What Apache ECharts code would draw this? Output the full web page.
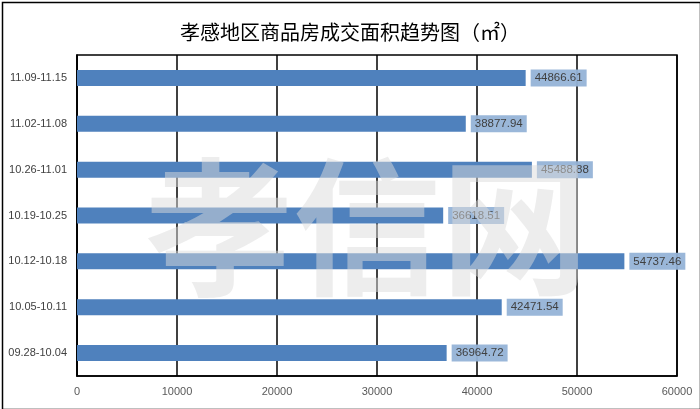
<!DOCTYPE html>
<html><head><meta charset="utf-8">
<script src="https://cdn.jsdelivr.net/npm/echarts@6/dist/echarts.min.js"></script>
<style>html,body{margin:0;padding:0;background:#fff}#c{width:700px;height:409px}</style>
</head><body><div id="c"></div>
<script>
const categories = ['09.28-10.04','10.05-10.11','10.12-10.18','10.19-10.25','10.26-11.01','11.02-11.08','11.09-11.15'];
const areaValues = [36964.72, 42471.54, 54737.46, 36618.51, 45488.88, 38877.94, 44866.61];
const titleText = '孝感地区商品房成交面积趋势图（㎡）';
const watermarkText = '孝信网';

const chart = echarts.init(document.getElementById('c'));
chart.setOption({
  backgroundColor: '#fff',
  animation: false,
  title: {
    text: titleText, left: 'center', top: 17,
    textStyle: {fontFamily: 'Noto Sans CJK SC', fontSize: 20, fontWeight: 'normal', color: '#000'}
  },
  grid: {left: 77, right: 23, top: 55, bottom: 33, show: true, borderColor: '#000', borderWidth: 1.5, backgroundColor: 'transparent'},
  xAxis: {
    type: 'value', min: 0, max: 60000, interval: 10000,
    axisLine: {show: true, lineStyle: {color: '#000', width: 1.5}},
    axisTick: {show: false},
    splitLine: {show: true, lineStyle: {color: '#000', width: 1.5}},
    axisLabel: {fontFamily: 'Liberation Sans', fontSize: 11, color: '#595959', margin: 10, formatter: v => String(v)}
  },
  yAxis: {
    type: 'category', data: categories,
    axisLine: {show: true, lineStyle: {color: '#000', width: 1.5}},
    axisTick: {show: false},
    axisLabel: {fontFamily: 'Liberation Sans', fontSize: 11, color: '#404040', margin: 10}
  },
  series: [{
    type: 'bar', data: areaValues, barWidth: 16,
    itemStyle: {color: '#4F81BD'},
    label: {
      show: true, position: 'right', distance: 5,
      fontFamily: 'Liberation Sans', fontSize: 11.5, color: '#404040',
      backgroundColor: 'rgba(149,179,215,0.95)', padding: [3, 4, 2, 4],
      formatter: p => p.value.toFixed(2)
    }
  }],
  graphic: [
    {type: 'rect', left: 0, top: 0, z: 100, silent: true,
     shape: {x: 0.5, y: 0.5, width: 698, height: 407},
     style: {fill: 'none', stroke: '#000', lineWidth: 1.5}},
    {type: 'text', left: 145, top: 153, z: 100, silent: true,
     style: {text: watermarkText, fontFamily: 'Noto Sans CJK SC', fontWeight: 'bold', fontSize: 148,
             fill: 'rgba(220,220,220,0.5)'}}
  ]
});
</script></body></html>
